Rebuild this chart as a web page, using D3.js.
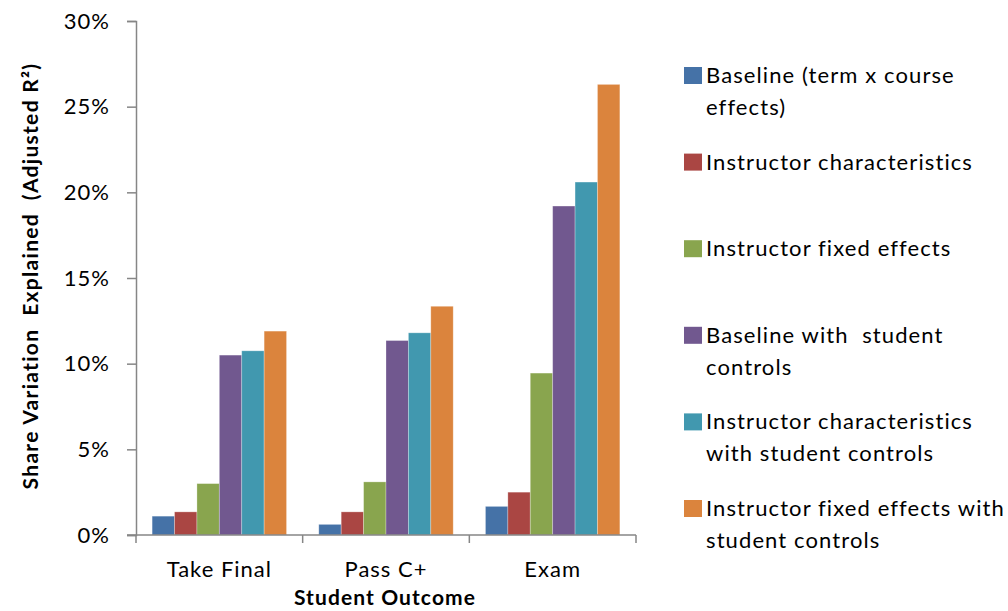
<!DOCTYPE html>
<html>
<head>
<meta charset="utf-8">
<script src="https://cdn.jsdelivr.net/npm/d3@7/dist/d3.min.js"></script>
<style>
  body { margin: 0; background: #fff; }
  text { font-family: Lato, "Open Sans", sans-serif; fill: #000; }
</style>
</head>
<body>
<div id="chart"></div>
<script>
var width = 1008;
var height = 611;

// data (percent)
var outcomes = ["Take Final", "Pass C+", "Exam"];
var seriesNames = [
  "Baseline (term x course effects)",
  "Instructor characteristics",
  "Instructor fixed effects",
  "Baseline with student controls",
  "Instructor characteristics with student controls",
  "Instructor fixed effects with student controls"
];
var legendLines = [
  ["Baseline (term x course", "effects)"],
  ["Instructor characteristics"],
  ["Instructor fixed effects"],
  ["Baseline with  student", "controls"],
  ["Instructor characteristics", "with student controls"],
  ["Instructor fixed effects with", "student controls"]
];
var colors = ["#4572A7", "#AA4643", "#89A54E", "#71588F", "#4198AF", "#DB843D"];
var takeFinal = [1.1, 1.35, 3.0, 10.5, 10.75, 11.9];
var passC = [0.62, 1.35, 3.1, 11.35, 11.8, 13.35];
var exam = [1.67, 2.5, 9.45, 19.2, 20.6, 26.3];
var values = [takeFinal, passC, exam];
var yTicks = [0, 5, 10, 15, 20, 25, 30];

var plotLeft = 136, plotRight = 636, plotTop = 21, plotBottom = 535;

var svg = d3.select("#chart")
  .append("svg")
  .attr("width", width)
  .attr("height", height);

var x0 = d3.scaleBand()
  .domain(outcomes)
  .range([plotLeft, plotRight])
  .padding(0);

var x1 = d3.scaleBand()
  .domain(d3.range(seriesNames.length))
  .range([0, x0.bandwidth()])
  .paddingInner(0)
  .paddingOuter(0.72);

var y = d3.scaleLinear()
  .domain([0, 30])
  .range([plotBottom, plotTop]);

// bars
var groups = svg.selectAll("g.group")
  .data(outcomes)
  .enter()
  .append("g")
  .attr("class", "group")
  .attr("transform", function(d) { return "translate(" + x0(d) + ",0)"; });

groups.selectAll("rect")
  .data(function(d, i) { return values[i]; })
  .enter()
  .append("rect")
  .attr("x", function(d, i) { return x1(i); })
  .attr("y", function(d) { return y(d); })
  .attr("width", x1.bandwidth())
  .attr("height", function(d) { return y(0) - y(d); })
  .style("fill", function(d, i) { return colors[i]; })
  .style("stroke", "#fff")
  .style("stroke-opacity", 0.35)
  .style("stroke-width", 0.8);

// y axis
var yAxis = d3.axisLeft(y)
  .tickValues(yTicks)
  .tickSize(9)
  .tickPadding(17)
  .tickFormat(function(d) { return d + "%"; });

var gy = svg.append("g")
  .attr("transform", "translate(" + plotLeft + ",0)")
  .call(yAxis);
gy.select(".domain").attr("stroke", "#868686").attr("stroke-width", 1.5);
gy.selectAll(".tick line").attr("stroke", "#868686").attr("stroke-width", 1.5);
gy.selectAll(".tick text")
  .style("font-size", "22px")
  .style("letter-spacing", "1px")
  .style("font-family", "Lato, sans-serif");

// x axis: line, boundary ticks, labels
svg.append("line")
  .attr("x1", plotLeft - 9)
  .attr("x2", plotRight)
  .attr("y1", plotBottom)
  .attr("y2", plotBottom)
  .attr("stroke", "#868686")
  .attr("stroke-width", 1.5);

var bounds = outcomes.map(function(d) { return x0(d); }).concat([plotRight]);
svg.selectAll("line.xtick")
  .data(bounds)
  .enter()
  .append("line")
  .attr("class", "xtick")
  .attr("x1", function(d) { return d; })
  .attr("x2", function(d) { return d; })
  .attr("y1", plotBottom)
  .attr("y2", plotBottom + 8)
  .attr("stroke", "#868686")
  .attr("stroke-width", 1.5);

svg.selectAll("text.xlabel")
  .data(outcomes)
  .enter()
  .append("text")
  .attr("class", "xlabel")
  .attr("x", function(d) { return x0(d) + x0.bandwidth() / 2; })
  .attr("y", 577)
  .attr("text-anchor", "middle")
  .style("font-size", "22px")
  .style("letter-spacing", "1px")
  .text(function(d) { return d; });

// axis titles
svg.append("text")
  .attr("x", 385)
  .attr("y", 605)
  .attr("text-anchor", "middle")
  .style("font-size", "21px")
  .style("font-weight", "bold")
  .style("letter-spacing", "1.1px")
  .text("Student Outcome");

svg.append("text")
  .attr("transform", "translate(38,276) rotate(-90)")
  .attr("text-anchor", "middle")
  .style("font-size", "21px")
  .style("font-weight", "bold")
  .style("letter-spacing", "1.3px")
  .style("white-space", "pre")
  .text("Share Variation  Explained  (Adjusted R²)");

// legend
var legend = svg.selectAll("g.legend")
  .data(seriesNames)
  .enter()
  .append("g")
  .attr("class", "legend")
  .attr("transform", function(d, i) { return "translate(684," + (67 + i * 86.6) + ")"; });

legend.append("rect")
  .attr("width", 18)
  .attr("height", 17)
  .style("fill", function(d, i) { return colors[i]; });

legend.each(function(d, i) {
  var g = d3.select(this);
  legendLines[i].forEach(function(line, j) {
    g.append("text")
      .attr("x", 22)
      .attr("y", 16 + j * 32)
      .style("font-size", "22px")
      .style("letter-spacing", "1.1px")
      .style("white-space", "pre")
      .text(line);
  });
});
</script>
</body>
</html>
